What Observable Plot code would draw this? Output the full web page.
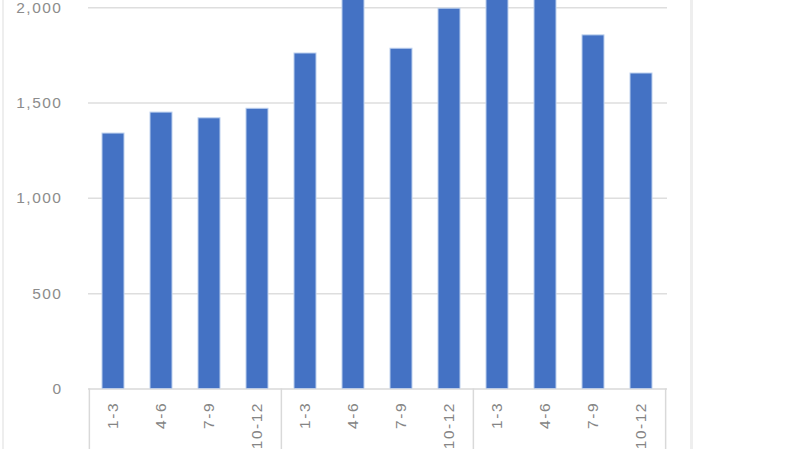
<!DOCTYPE html>
<html>
<head>
<meta charset="utf-8">
<script src="https://cdn.jsdelivr.net/npm/d3@7"></script>
<script src="https://cdn.jsdelivr.net/npm/@observablehq/plot@0.6"></script>
<style>
  html, body { margin: 0; padding: 0; background: #fff; overflow: hidden; }
  #wrap { position: relative; width: 800px; height: 449px; }
  #border { position: absolute; left: 2px; top: 0; width: 686px; height: 449px;
            border-left: 2px solid #eeeeee; border-right: 3px solid #eeeeee; pointer-events: none; }
  svg { font-family: "Liberation Sans", Arial, sans-serif; }
  svg text { letter-spacing: 1.5px; }
</style>
</head>
<body>
<div id="wrap"><div id="border"></div></div>
<script>
const years = ["Y1", "Y2", "Y3"];
const quarters = ["1-3", "4-6", "7-9", "10-12"];
const values = [1340, 1450, 1420, 1470, 1760, 2100, 1785, 1995, 2150, 2120, 1855, 1655];
const yTicks = [0, 500, 1000, 1500, 2000];

const data = [];
years.forEach((yr, i) => quarters.forEach((q, j) => {
  data.push({key: yr + "|" + q, year: yr, quarter: q, value: values[i * quarters.length + j]});
}));
const keys = data.map(d => d.key);
const groupStarts = years.map(yr => yr + "|" + quarters[0]);
const lastKey = keys[keys.length - 1];

const W = 800, H = 449, mL = 88, mR = 133, mT = 0, mB = 60.5;
const step = (W - mL - mR) / keys.length;

const chart = Plot.plot({
  width: W, height: H,
  marginLeft: mL, marginRight: mR, marginTop: mT, marginBottom: mB,
  style: {fontFamily: '"Liberation Sans", Arial, sans-serif', background: "transparent", overflow: "visible"},
  x: {domain: keys, paddingInner: 0.54, paddingOuter: 0.27, axis: null, label: null},
  y: {domain: [0, 2038], axis: null, label: null},
  marks: [
    Plot.gridY(yTicks.filter(t => t > 0), {stroke: "#dedede", strokeOpacity: 1, strokeWidth: 1.5}),
    Plot.ruleY([0], {stroke: "#d9d9d9", strokeWidth: 1.5}),
    Plot.barY(data, {x: "key", y: "value", fill: "#4472C4", stroke: "#bcd0ee", strokeWidth: 1, clip: true}),
    Plot.axisY(yTicks, {label: null, tickSize: 0, tickPadding: 26, tickFormat: d3.format(","), fontSize: 15.5, fill: "#8c8c8c"}),
    Plot.axisX(keys, {label: null, tickSize: 0, tickPadding: 13, tickRotate: -90, tickFormat: k => k.split("|")[1], fontSize: 15.5, fill: "#858585"}),
    Plot.axisX(groupStarts, {label: null, tickSize: 62, dx: -step / 2, tickFormat: () => "", stroke: "#d9d9d9", strokeWidth: 1.5}),
    Plot.axisX([lastKey], {label: null, tickSize: 62, dx: step / 2, tickFormat: () => "", stroke: "#d9d9d9", strokeWidth: 1.5})
  ]
});
document.getElementById("wrap").prepend(chart);
</script>
</body>
</html>
